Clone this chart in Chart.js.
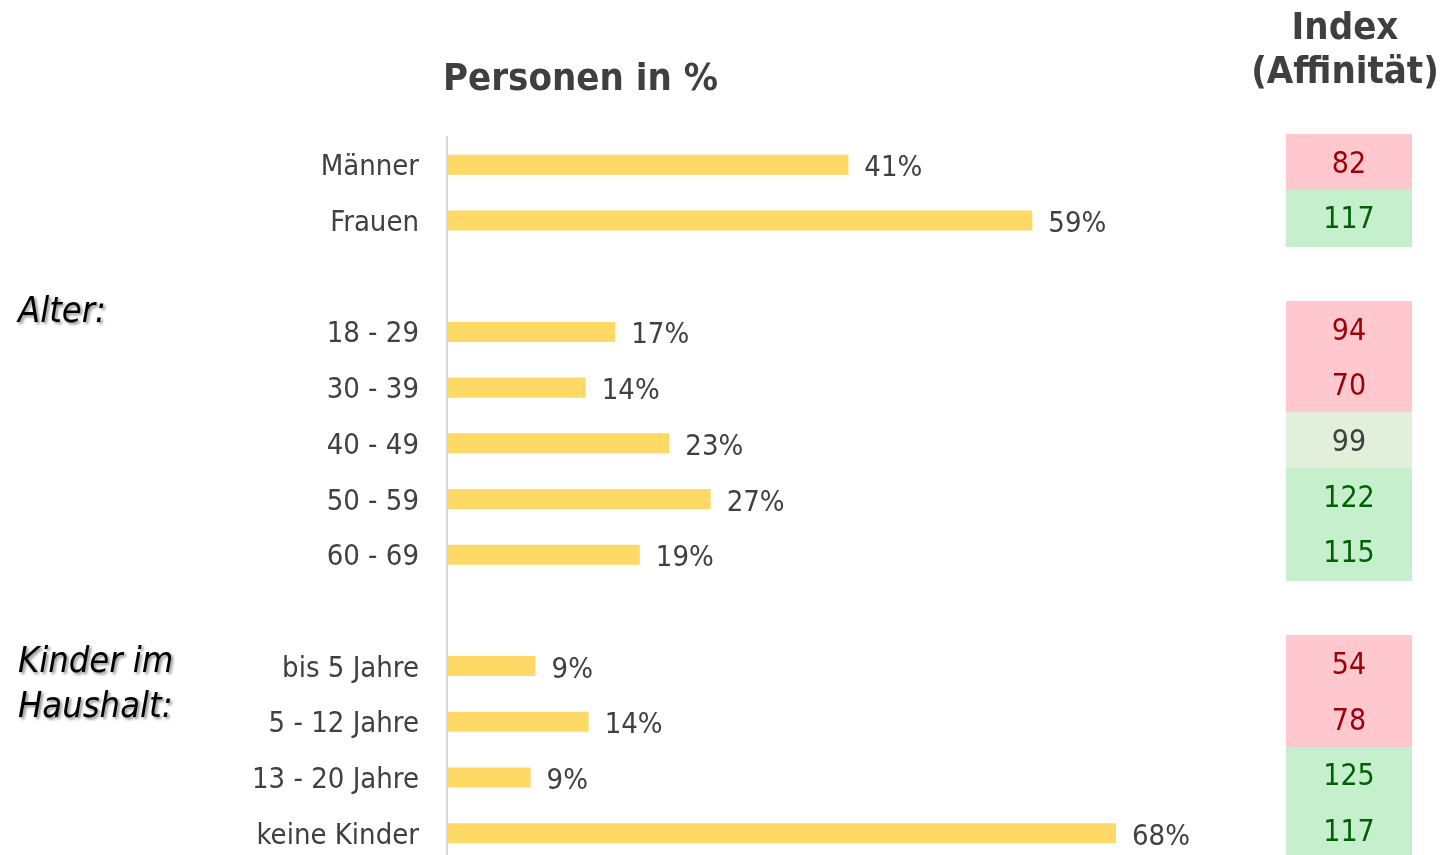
<!DOCTYPE html>
<html>
<head>
<meta charset="utf-8">
<script src="https://cdn.jsdelivr.net/npm/chart.js@4.4.1/dist/chart.umd.min.js"></script>
<style>
  html, body { margin: 0; padding: 0; background: #fff; overflow: hidden; }
  #wrap { position: relative; width: 1442px; height: 862px; }
</style>
</head>
<body>
<div id="wrap"><canvas id="chart"></canvas></div>
<script>
// Personen in % + Index (Affinität)
var categories = ['Männer', 'Frauen', '', '18 - 29', '30 - 39', '40 - 49', '50 - 59', '60 - 69', '',
                  'bis 5 Jahre', '5 - 12 Jahre', '13 - 20 Jahre', 'keine Kinder'];
var shares = [40.8, 59.5, null, 17.1, 14.1, 22.6, 26.8, 19.6, null, 9.0, 14.4, 8.5, 68.0];
var shareLabels = ['41%', '59%', '', '17%', '14%', '23%', '27%', '19%', '', '9%', '14%', '9%', '68%'];
var indexValues = [82, 117, null, 94, 70, 99, 122, 115, null, 54, 78, 125, 117];

var FONT = "'DejaVu Sans Condensed', 'DejaVu Sans', sans-serif";

var extras = {
  id: 'extras',
  afterDatasetsDraw: function(chart) {
    var ctx = chart.ctx, x = chart.scales.x, y = chart.scales.y;
    ctx.save();

    // value labels right of the bars
    ctx.font = '29px ' + FONT;
    ctx.fillStyle = '#404040';
    ctx.textBaseline = 'middle';
    ctx.textAlign = 'left';
    shares.forEach(function(v, i) {
      if (v === null) return;
      ctx.fillText(shareLabels[i], x.getPixelForValue(v) + 16, y.getPixelForValue(i) + 4);
    });

    // index column
    var band = y.getPixelForValue(1) - y.getPixelForValue(0);
    ctx.font = '30px ' + FONT;
    ctx.textAlign = 'center';
    indexValues.forEach(function(v, i) {
      if (v === null) return;
      var cy = y.getPixelForValue(i) - 3;
      var bg, fg;
      if (v < 95) { bg = '#FFC7CE'; fg = '#9C0006'; }
      else if (v <= 105) { bg = '#E2EFDA'; fg = '#404040'; }
      else { bg = '#C6EFCE'; fg = '#006100'; }
      ctx.fillStyle = bg;
      ctx.fillRect(1286, Math.round(cy - band / 2), 126, Math.ceil(band) + 1);
      ctx.fillStyle = fg;
      ctx.fillText(String(v), 1349, cy + 3);
    });

    // headings
    ctx.textBaseline = 'alphabetic';
    ctx.fillStyle = '#3F3F3F';
    ctx.font = 'bold 38px ' + FONT;
    ctx.textAlign = 'left';
    ctx.fillText('Personen in %', 443, 90);
    ctx.textAlign = 'center';
    ctx.fillText('Index', 1345, 39);
    ctx.fillText('(Affinität)', 1345, 83);

    // group labels with shadow
    ctx.font = 'italic 36px ' + FONT;
    ctx.fillStyle = '#000';
    ctx.textAlign = 'left';
    ctx.shadowColor = 'rgba(0,0,0,0.45)';
    ctx.shadowBlur = 3;
    ctx.shadowOffsetX = 2;
    ctx.shadowOffsetY = 2;
    ctx.fillText('Alter:', 18, 322);
    ctx.fillText('Kinder im', 18, 672);
    ctx.fillText('Haushalt:', 18, 717);

    ctx.restore();
  }
};

new Chart('chart', {
  type: 'bar',
  data: {
    labels: categories,
    datasets: [{
      data: shares,
      backgroundColor: '#FFD966',
      barPercentage: 0.36,
      categoryPercentage: 1
    }]
  },
  options: {
    indexAxis: 'y',
    responsive: true,
    maintainAspectRatio: false,
    animation: false,
    layout: { padding: { top: 137, bottom: 1, left: 0, right: 208 } },
    plugins: { legend: { display: false }, tooltip: { enabled: false } },
    scales: {
      x: { display: false, min: 0, max: 80 },
      y: {
        grid: { display: false, drawTicks: false },
        border: { display: true, color: '#D9D9D9', width: 2 },
        ticks: { color: '#404040', padding: 28, labelOffset: 3, autoSkip: false, font: { family: FONT, size: 29 } },
        afterFit: function(s) {
          s.width = 447;
          s.paddingTop = 0;
          s.paddingBottom = 0;
        }
      }
    }
  },
  plugins: [extras]
});
</script>
</body>
</html>
